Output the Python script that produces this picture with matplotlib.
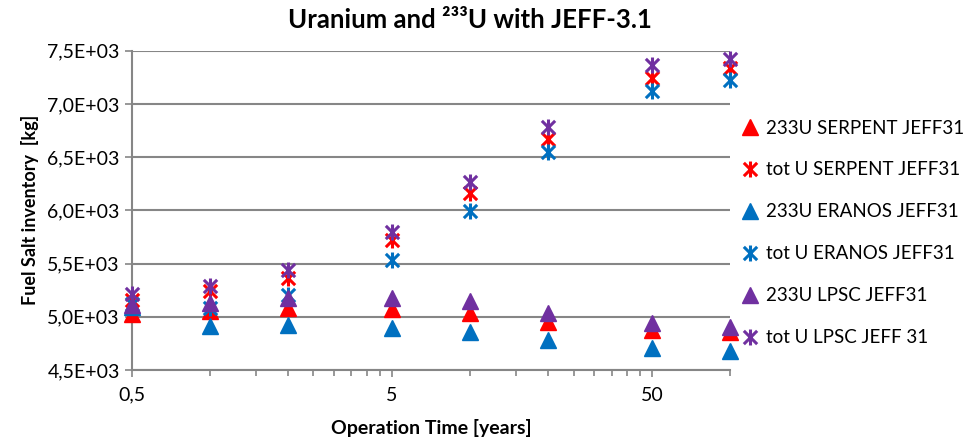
import numpy as np
import matplotlib
matplotlib.use('Agg')
import matplotlib.pyplot as plt
from matplotlib.path import Path
from matplotlib.ticker import FixedLocator, FuncFormatter, NullFormatter

plt.rcParams['font.family'] = ['Lato', 'DejaVu Sans']

# operation time [years]
t = [0.5, 1, 2, 5, 10, 20, 50, 100]

# fuel salt inventory [kg]
u233_serpent = [5030, 5050, 5080, 5070, 5035, 4955, 4875, 4860]
totu_serpent = [5160, 5245, 5360, 5720, 6160, 6675, 7240, 7335]
u233_eranos = [5090, 4910, 4920, 4895, 4860, 4780, 4705, 4680]
totu_eranos = [5120, 5080, 5205, 5535, 5990, 6550, 7120, 7225]
u233_lpsc = [5110, 5130, 5175, 5175, 5145, 5035, 4945, 4900]
totu_lpsc = [5215, 5285, 5440, 5800, 6270, 6785, 7365, 7420]

labels = ['233U SERPENT JEFF31', 'tot U SERPENT JEFF31', '233U ERANOS JEFF31',
          'tot U ERANOS JEFF31', '233U LPSC JEFF31', 'tot U LPSC JEFF 31']

red = '#FF0000'
blue = '#0070C0'
purple = '#7030A0'

# excel style star marker: an X with a vertical bar
star = Path([(-1, -1), (1, 1), (-1, 1), (1, -1), (0, -1.2), (0, 1.2)],
            [Path.MOVETO, Path.LINETO, Path.MOVETO, Path.LINETO, Path.MOVETO, Path.LINETO])

fig = plt.figure(figsize=(9.75, 4.41), dpi=100)
ax = fig.add_axes([0.135, 0.161, 0.614, 0.724])

series = [(u233_serpent, '^', red), (totu_serpent, star, red),
          (u233_eranos, '^', blue), (totu_eranos, star, blue),
          (u233_lpsc, '^', purple), (totu_lpsc, star, purple)]
for (vals, mk, col), lab in zip(series, labels):
    if mk == '^':
        ax.plot(t, vals, ls='none', marker='^', ms=12, mfc=col, mec=col,
                label=lab, clip_on=False, zorder=3)
    else:
        ax.plot(t, vals, ls='none', marker=mk, ms=11.5, mfc='none', mec=col,
                mew=2.2, label=lab, clip_on=False, zorder=3)

ax.set_xscale('log')
ax.set_xlim(0.5, 100)
ax.set_ylim(4500, 7500)
ax.xaxis.set_major_locator(FixedLocator([0.5, 5, 50]))
ax.xaxis.set_minor_locator(FixedLocator([0.5 * k * 10**d for d in range(3) for k in range(2, 10)]))
ax.xaxis.set_major_formatter(FuncFormatter(lambda v, p: ('%g' % v).replace('.', ',')))
ax.xaxis.set_minor_formatter(NullFormatter())
ax.set_yticks(np.arange(4500, 7501, 500))
ax.yaxis.set_major_formatter(FuncFormatter(lambda v, p: ('%.1f' % (v / 1000)).replace('.', ',') + 'E+03'))

ax.grid(axis='y', color='#868686', lw=1.5)
ax.set_axisbelow(True)
for s in ['top', 'right']:
    ax.spines[s].set_visible(False)
for s in ['left', 'bottom']:
    ax.spines[s].set_color('#868686')
    ax.spines[s].set_linewidth(1.5)
ax.tick_params(axis='both', which='both', color='#868686', width=1.2, labelsize=14)
ax.tick_params(axis='both', which='major', length=5)
ax.tick_params(axis='x', which='minor', length=4)
ax.tick_params(axis='x', pad=7)

fig.text(0.482, 0.955, 'Uranium and ²³³U with JEFF-3.1', fontsize=18.5,
         fontweight='bold', ha='center', va='center')
ax.set_xlabel('Operation Time [years]', fontsize=14, fontweight='bold', labelpad=11)
ax.set_ylabel('Fuel Salt inventory  [kg]', fontsize=13, fontweight='bold', labelpad=6)

fig.legend(loc='center left', bbox_to_anchor=(0.75, 0.472), frameon=False,
           fontsize=13.5, labelspacing=1.33, handlelength=1.0, handletextpad=0.35,
           borderpad=0)

fig.savefig('out.png', dpi=100)
